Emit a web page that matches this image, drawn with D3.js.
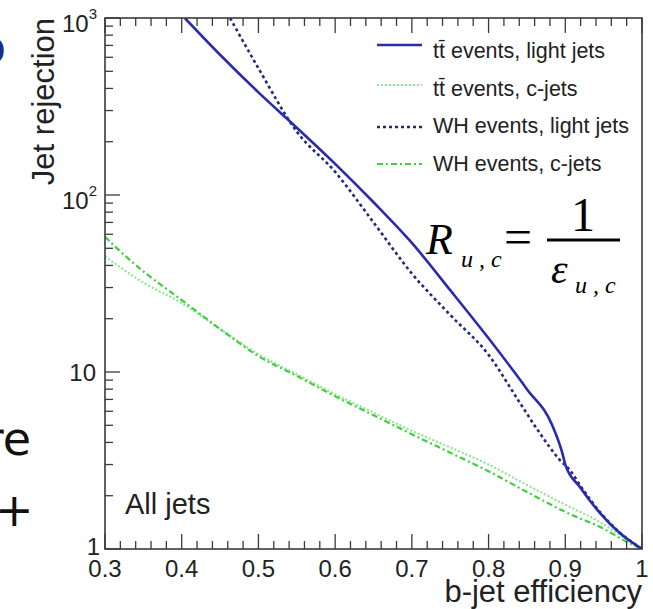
<!DOCTYPE html>
<html><head><meta charset="utf-8">
<script src="https://cdn.jsdelivr.net/npm/d3@7"></script>
<style>body{margin:0;background:#fff}svg{display:block}</style>
</head><body>
<script>
// ---- data ----
const ttLightEff = [0.404,0.45,0.5,0.55,0.6,0.65,0.7,0.75,0.8,0.85,0.883,0.896,0.9,0.919,0.945,0.971,1.0];
const ttLightRej = [1000,620,380,240,150,91,53.6,29,15.5,8.0,5.0,3.5,3.0,2.24,1.6,1.23,1.0];
const whLightEff = [0.463,0.5,0.55,0.6,0.65,0.7,0.75,0.8,0.838,0.864,0.893,0.906,0.919,0.945,0.971,1.0];
const whLightRej = [1000,520,228,135,70,36,21,12.5,7.0,4.7,3.18,2.79,2.3,1.62,1.24,1.0];
const cEff   = [0.3,0.32,0.35,0.4,0.45,0.5,0.55,0.6,0.65,0.7,0.75,0.8,0.85,0.9,0.95,0.98,1.0];
const ttCRej = [45,39,32,24.5,17.5,12.6,9.7,7.5,5.9,4.65,3.75,3.0,2.3,1.78,1.38,1.13,1.0];
const whCRej = [58,48,37,25.5,17.5,12.3,9.5,7.3,5.7,4.45,3.5,2.75,2.1,1.62,1.3,1.1,1.0];
const xTicks = [0.3,0.4,0.5,0.6,0.7,0.8,0.9,1.0];
const xTickLabels = ["0.3","0.4","0.5","0.6","0.7","0.8","0.9","1"];
const yTicks = [1,10,100,1000];
const yTickBase = ["1","10","10","10"];
const yTickExp = ["","","2","3"];
const legendLabels = ["t\u0074\u0304 events, light jets","t\u0074\u0304 events, c-jets","WH events, light jets","WH events, c-jets"];

const W=653,H=609;
const L=105,R=642,T=18,B=549;
const svg=d3.select("body").append("svg").attr("width",W).attr("height",H);
const x=d3.scaleLinear().domain([0.3,1]).range([L,R]);
const y=d3.scaleLog().domain([1,1000]).range([B,T]);
const axisCol="#3a3a3a";
const font="'Liberation Sans', Arial, sans-serif";

// slide fragments
svg.append("text").attr("x",-22).attr("y",63).attr("font-family","'DejaVu Sans',sans-serif").attr("font-size",46).attr("fill","#1b2a8c").text("o");
svg.append("text").attr("x",31).attr("y",455).attr("text-anchor","end").attr("font-family","'DejaVu Sans',sans-serif").attr("font-size",46).attr("fill","#111").text("re");
svg.append("text").attr("x",-5).attr("y",526).attr("font-family","'DejaVu Sans',sans-serif").attr("font-size",46).attr("fill","#111").text("+");

const defs=svg.append("defs");
defs.append("clipPath").attr("id","clip").append("rect").attr("x",L).attr("y",T).attr("width",R-L).attr("height",B-T);

// curves
const line=d3.line().x(d=>x(d[0])).y(d=>y(d[1])).curve(d3.curveMonotoneX);
const g=svg.append("g").attr("clip-path","url(#clip)");
const series=[
  {e:cEff,r:ttCRej,col:"#8fe88f",w:2.2,dash:"2,2"},
  {e:cEff,r:whCRej,col:"#3fcf3f",w:2.2,dash:"6,3,2,3"},
  {e:whLightEff,r:whLightRej,col:"#25257e",w:2.6,dash:"3,3"},
  {e:ttLightEff,r:ttLightRej,col:"#2a2aae",w:2.6,dash:null}
];
series.forEach(s=>{
  g.append("path").datum(s.e.map((v,i)=>[v,s.r[i]])).attr("d",line)
   .attr("fill","none").attr("stroke",s.col).attr("stroke-width",s.w)
   .attr("stroke-dasharray",s.dash);
});

// frame
svg.append("rect").attr("x",L).attr("y",T).attr("width",R-L).attr("height",B-T).attr("fill","none").attr("stroke",axisCol).attr("stroke-width",1.6);

// x ticks (bottom & top)
const xMinor=d3.range(0.32,1.0,0.02).filter(v=>Math.abs(v*10-Math.round(v*10))>1e-6);
const xa=svg.append("g").attr("stroke",axisCol).attr("stroke-width",1.3);
xTicks.forEach(v=>{
  xa.append("line").attr("x1",x(v)).attr("x2",x(v)).attr("y1",B).attr("y2",B-15);
  xa.append("line").attr("x1",x(v)).attr("x2",x(v)).attr("y1",T).attr("y2",T+15);
});
xMinor.forEach(v=>{
  xa.append("line").attr("x1",x(v)).attr("x2",x(v)).attr("y1",B).attr("y2",B-8);
  xa.append("line").attr("x1",x(v)).attr("x2",x(v)).attr("y1",T).attr("y2",T+8);
});
svg.append("g").selectAll("text").data(xTicks).join("text")
  .attr("x",d=>x(d)).attr("y",B+28).attr("text-anchor","middle")
  .attr("font-family",font).attr("font-size",24).attr("fill","#222")
  .text((d,i)=>xTickLabels[i]);

// y ticks
const ya=svg.append("g").attr("stroke",axisCol).attr("stroke-width",1.3);
yTicks.forEach(v=>ya.append("line").attr("x1",L).attr("x2",L+15).attr("y1",y(v)).attr("y2",y(v)));
[1,10,100].forEach(dec=>d3.range(2,10).forEach(k=>{
  const v=dec*k; ya.append("line").attr("x1",L).attr("x2",L+8).attr("y1",y(v)).attr("y2",y(v));
}));
yTicks.forEach((v,i)=>{
  const t=svg.append("text").attr("font-family",font).attr("font-size",24).attr("fill","#222").attr("text-anchor","end");
  if(yTickExp[i]){
    t.attr("x",L-8).attr("y",y(v)+14);
    t.append("tspan").text(yTickBase[i]);
    t.append("tspan").attr("font-size",15).attr("dy",-13).text(yTickExp[i]);
  } else if(v===1){
    t.attr("x",L-5).attr("y",y(v)+6).text(yTickBase[i]);
  } else {
    t.attr("x",L-9).attr("y",y(v)+9).text(yTickBase[i]);
  }
});

// axis titles
svg.append("text").attr("x",R).attr("y",602).attr("text-anchor","end").attr("font-family",font).attr("font-size",31).attr("fill","#222").text("b-jet efficiency");
svg.append("text").attr("transform","translate(54,18) rotate(-90)").attr("text-anchor","end").attr("font-family",font).attr("font-size",31).attr("fill","#222").text("Jet rejection");

// All jets
svg.append("text").attr("x",125).attr("y",514).attr("font-family",font).attr("font-size",29).attr("fill","#222").text("All jets");

// legend
const legY=[45,85,127,164];
const legTextY=[58,96,133,171];
const legOrder=[3,0,2,1];
legendLabels.forEach((lab,i)=>{
  const s=series[legOrder[i]];
  svg.append("line").attr("x1",377).attr("x2",422).attr("y1",legY[i]).attr("y2",legY[i])
    .attr("stroke",s.col).attr("stroke-width",s.w).attr("stroke-dasharray",s.dash);
  svg.append("text").attr("x",433).attr("y",legTextY[i]).attr("font-family",font).attr("font-size",21.5).attr("fill","#222").text(lab);
});

// formula
const ff="'Liberation Serif','Times New Roman',serif";
svg.append("text").attr("x",426).attr("y",254).attr("font-family",ff).attr("font-style","italic").attr("font-size",44).attr("fill","#000").text("R");
svg.append("text").attr("x",461).attr("y",267).attr("font-family",ff).attr("font-style","italic").attr("font-size",24).attr("fill","#000").text("u , c");
svg.append("text").attr("x",504).attr("y",254).attr("font-family",ff).attr("font-size",50).attr("fill","#000").text("=");
svg.append("line").attr("x1",547).attr("x2",620).attr("y1",240).attr("y2",240).attr("stroke","#000").attr("stroke-width",3);
svg.append("text").attr("x",583).attr("y",231).attr("text-anchor","middle").attr("font-family",ff).attr("font-size",48).attr("fill","#000").text("1");
svg.append("text").attr("x",551).attr("y",283).attr("font-family",ff).attr("font-style","italic").attr("font-size",42).attr("fill","#000").text("\u03b5");
svg.append("text").attr("x",575).attr("y",293).attr("font-family",ff).attr("font-style","italic").attr("font-size",24).attr("fill","#000").text("u , c");
</script>
</body></html>
